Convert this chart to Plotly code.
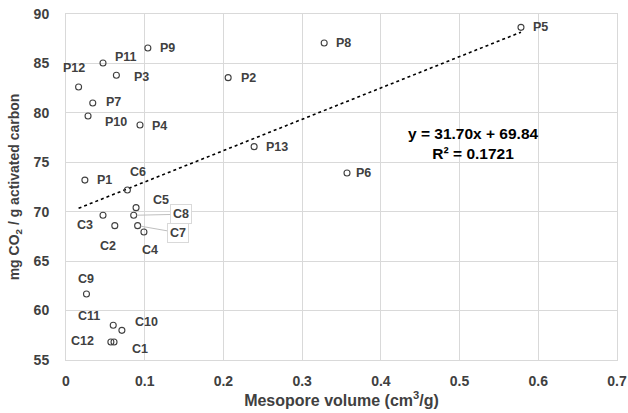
import plotly.graph_objects as go

# Samples
labels = ["P1", "P2", "P3", "P4", "P5", "P6", "P7", "P8", "P9", "P10", "P11", "P12", "P13",
          "C1", "C2", "C3", "C4", "C5", "C6", "C7", "C8", "C9", "C10", "C11", "C12"]
meso_volume = [0.024, 0.206, 0.064, 0.094, 0.578, 0.357, 0.034, 0.328, 0.104, 0.028, 0.047, 0.016, 0.239,
               0.061, 0.062, 0.047, 0.099, 0.089, 0.078, 0.091, 0.086, 0.026, 0.071, 0.060, 0.057]
co2_uptake = [73.2, 83.56, 83.8, 78.77, 88.65, 73.92, 81.0, 87.07, 86.56, 79.68, 85.04, 82.62, 76.58,
              56.82, 68.59, 69.64, 67.95, 70.41, 72.2, 68.59, 69.64, 61.68, 58.0, 58.51, 56.82]

# Linear trendline as reported on the chart
slope = 31.70
intercept = 69.84
r_squared = 0.1721

x_ticks = [0, 0.1, 0.2, 0.3, 0.4, 0.5, 0.6, 0.7]
x_tick_text = ["0", "0.1", "0.2", "0.3", "0.4", "0.5", "0.6", "0.7"]
y_ticks = [55, 60, 65, 70, 75, 80, 85, 90]

# label offsets in pixels (dx, dy with dy positive = down)
label_offsets = {
    "P1": (20, 0), "P2": (20, 0), "P3": (25, 2), "P4": (20, 1), "P5": (20, 0),
    "P6": (16, 0), "P7": (21, -1), "P8": (19, 0), "P9": (20, 0), "P10": (28, 6),
    "P11": (23, -6), "P12": (-5, -19), "P13": (23, 0),
    "C1": (26, 7), "C2": (-7, 20), "C3": (-18, 10), "C4": (6, 18), "C5": (25, -8),
    "C6": (11, -18), "C9": (0, -15), "C10": (25, -8), "C11": (-24, -9), "C12": (-28, -1),
}
callouts = {"C8": (47, -1), "C7": (40, 7)}

FONT = "Liberation Sans, Arial, sans-serif"
TXT = "#404040"

fig = go.Figure()

x_min, x_max = min(meso_volume), max(meso_volume)
fig.add_trace(go.Scatter(
    x=[x_min, x_max], y=[slope * x_min + intercept, slope * x_max + intercept],
    mode="lines", line=dict(color="#000000", width=1.6, dash="dot"),
    hoverinfo="skip", showlegend=False))

fig.add_trace(go.Scatter(
    x=meso_volume, y=co2_uptake, mode="markers",
    marker=dict(symbol="circle-open", size=6, color="#404040", line=dict(width=1.1, color="#404040")),
    showlegend=False, text=labels))

annotations = []
for lab, xv, yv in zip(labels, meso_volume, co2_uptake):
    if lab in callouts:
        dx, dy = callouts[lab]
        annotations.append(dict(
            x=xv, y=yv, text="<b>%s</b>" % lab, showarrow=True, arrowhead=0,
            arrowwidth=1, arrowcolor="#bfbfbf", ax=dx, ay=dy, standoff=3,
            bordercolor="#d9d9d9", borderwidth=1, borderpad=2, bgcolor="white",
            font=dict(family=FONT, size=12.5, color=TXT)))
    else:
        dx, dy = label_offsets[lab]
        annotations.append(dict(
            x=xv, y=yv, text="<b>%s</b>" % lab, showarrow=False,
            xshift=dx, yshift=-dy, font=dict(family=FONT, size=12.5, color=TXT)))

annotations.append(dict(
    x=0.518, y=76.95, xref="x", yref="y",
    text="<b>y = %.2fx + %.2f</b><br><b>R² = %.4f</b>" % (slope, intercept, r_squared),
    showarrow=False, align="center", font=dict(family=FONT, size=15.5, color="#000000")))

fig.update_layout(
    width=628, height=413,
    margin=dict(l=66, r=11, t=14, b=53),
    paper_bgcolor="white", plot_bgcolor="white",
    annotations=annotations,
    xaxis=dict(
        range=[0, 0.7], tickvals=x_ticks, ticktext=x_tick_text, automargin=False,
        showgrid=True, gridcolor="#d9d9d9", gridwidth=1,
        showline=True, linecolor="#d9d9d9", mirror=True, zeroline=False,
        ticks="outside", ticklen=8, tickcolor="rgba(0,0,0,0)",
        tickfont=dict(family=FONT, size=14, color=TXT, weight="bold"),
        title=dict(text="<b>Mesopore volume (cm<sup>3</sup>/g)</b>",
                   font=dict(family=FONT, size=16, color=TXT), standoff=2)),
    yaxis=dict(
        range=[55, 90], tickvals=y_ticks, automargin=False,
        showgrid=True, gridcolor="#d9d9d9", gridwidth=1,
        showline=True, linecolor="#d9d9d9", mirror=True, zeroline=False,
        ticks="outside", ticklen=13, tickcolor="rgba(0,0,0,0)",
        tickfont=dict(family=FONT, size=14, color=TXT, weight="bold"),
        title=dict(text="<b>mg CO<sub>2</sub> / g activated carbon</b>",
                   font=dict(family=FONT, size=14, color=TXT), standoff=10)),
)

fig.write_html("out.html", config={"displayModeBar": False},
               post_script="document.body.style.margin='0';document.body.style.overflow='hidden';")
